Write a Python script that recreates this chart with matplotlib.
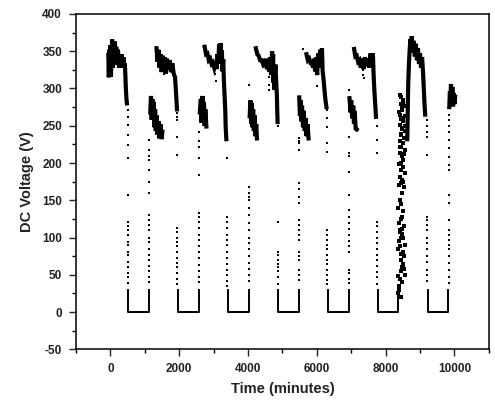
import matplotlib
matplotlib.use("Agg")
import matplotlib.pyplot as plt
from matplotlib.ticker import MultipleLocator

plt.rcParams['font.family'] = ['Liberation Sans', 'DejaVu Sans']
plt.rcParams['axes.unicode_minus'] = False

# night periods at 0 V: (start, end) in minutes
flats = [(525, 1125), (1960, 2570), (3410, 4020), (4870, 5480),
         (6330, 6930), (7770, 8360), (9220, 9820)]

# dense daytime traces (time, voltage)
high1_t = [-60, -45, -30, -15, 0, 15, 30, 50, 70, 90, 110, 130, 150, 170, 200, 220, 250, 270, 300, 320, 350, 380, 400, 420, 435, 450, 465, 480]
high1_v = [345, 315, 352, 320, 358, 316, 335, 366, 328, 362, 336, 363, 340, 356, 332, 352, 328, 346, 332, 346, 328, 342, 330, 334, 318, 300, 287, 280]

low1_t = [1160, 1180, 1200, 1220, 1240, 1260, 1280, 1300, 1320, 1340, 1370, 1400, 1430, 1460, 1490, 1510]
low1_v = [268, 290, 258, 286, 262, 282, 248, 272, 243, 264, 238, 256, 233, 252, 232, 242]

high2_t = [1340, 1370, 1400, 1430, 1460, 1490, 1520, 1550, 1580, 1610, 1640, 1680, 1720, 1760, 1800, 1840, 1880, 1900, 1920, 1935]
high2_v = [354, 336, 352, 328, 346, 322, 344, 328, 342, 320, 340, 326, 338, 322, 334, 320, 315, 300, 285, 272]

low2_t = [2600, 2630, 2650, 2680, 2700, 2720, 2740, 2760, 2790]
low2_v = [268, 286, 254, 290, 258, 282, 250, 272, 249]

high3_t = [2740, 2780, 2820, 2860, 2900, 2940, 2980, 3020, 3060, 3090, 3110, 3140, 3160, 3180, 3200, 3220, 3240, 3260, 3280, 3300, 3320, 3340, 3350, 3370]
high3_v = [356, 346, 347, 338, 340, 333, 335, 328, 336, 326, 346, 336, 359, 343, 361, 333, 351, 323, 339, 310, 290, 270, 250, 232]

low3_t = [4050, 4070, 4090, 4110, 4130, 4150, 4170, 4190, 4210, 4240, 4260]
low3_v = [263, 284, 253, 280, 248, 272, 243, 264, 236, 252, 233]

high4_t = [4230, 4270, 4310, 4350, 4400, 4450, 4490, 4520, 4550, 4580, 4610, 4640, 4670, 4700, 4720, 4730, 4740, 4750, 4760, 4780, 4800, 4820, 4840, 4850, 4860]
high4_v = [354, 346, 344, 338, 338, 331, 332, 340, 326, 337, 323, 342, 318, 350, 328, 346, 308, 326, 298, 322, 332, 308, 290, 270, 255]

low4_t = [5490, 5510, 5530, 5550, 5570, 5600, 5620, 5650, 5680, 5700, 5730, 5760]
low4_v = [288, 263, 284, 256, 277, 248, 270, 243, 260, 236, 252, 233]

high5_t = [5700, 5740, 5780, 5820, 5860, 5890, 5920, 5950, 5980, 6010, 6040, 6070, 6100, 6130, 6150, 6170, 6190, 6220, 6250, 6280]
high5_v = [346, 338, 340, 334, 334, 328, 340, 323, 342, 318, 347, 328, 352, 333, 354, 323, 315, 300, 285, 275]

low5_t = [6950, 6980, 7000, 7030, 7060, 7080, 7100, 7130, 7160]
low5_v = [287, 268, 284, 260, 277, 253, 270, 246, 245]

high6_t = [7085, 7120, 7160, 7200, 7240, 7280, 7320, 7360, 7400, 7440, 7480, 7520, 7560, 7600, 7630, 7650, 7670, 7690, 7710, 7720]
high6_v = [353, 343, 344, 336, 338, 328, 340, 326, 342, 330, 340, 328, 347, 333, 347, 320, 300, 285, 270, 262]

high7_t = [8630, 8640, 8650, 8660, 8680, 8700, 8720, 8740, 8760, 8790, 8820, 8850, 8880, 8910, 8940, 8970, 9000, 9030, 9060, 9090, 9110, 9130, 9150]
high7_v = [232, 260, 290, 310, 335, 352, 366, 352, 370, 348, 364, 343, 360, 338, 354, 333, 347, 328, 342, 320, 300, 280, 265]

low7_t = [9850, 9870, 9880, 9900, 9920, 9940, 9960, 9980, 10000, 10020]
low7_v = [275, 296, 278, 306, 283, 302, 276, 294, 279, 289]

# sparse samples during the evening drops and morning rises (time, voltages)
drops = [
    (500, [271, 262, 251, 238, 224, 207, 157, 121, 116, 110, 104, 94, 90, 81, 76, 67, 60, 53, 47, 39]),
    (1940, [267, 262, 258, 235, 211, 113, 108, 100, 94, 88, 80, 72, 66, 60, 52, 45, 38]),
    (3395, [207, 128, 121, 113, 104, 97, 90, 80, 72, 64, 57, 50, 42, 35]),
    (4860, [250, 121, 80, 77, 70, 65, 60, 55, 47, 38]),
    (6310, [271, 260, 248, 227, 215, 110, 104, 97, 90, 84, 77, 70, 64, 57, 50, 43, 37]),
    (7755, [249, 231, 214, 121, 115, 108, 100, 92, 85, 77, 70, 62, 54, 47, 38]),
    (9195, [258, 250, 242, 235, 211, 128, 124, 117, 110, 100, 92, 84, 75, 67, 57, 50, 42]),
]
rises = [
    (1135, [231, 218, 210, 204, 190, 175, 160, 130, 124, 117, 110, 100, 94, 84, 77, 70, 62, 55, 47, 40]),
    (2585, [241, 230, 222, 207, 184, 133, 128, 121, 113, 104, 97, 88, 80, 72, 63, 55, 47, 40]),
    (4035, [305, 168, 160, 154, 150, 140, 130, 120, 110, 100, 92, 84, 75, 66, 58, 50, 42]),
    (5490, [234, 230, 227, 218, 173, 165, 154, 147, 124, 117, 110, 104, 97, 80, 75, 70, 57, 50, 43]),
    (6940, [298, 235, 214, 209, 188, 157, 137, 128, 120, 112, 104, 95, 88, 80, 57, 52, 44, 39]),
    (9835, [264, 258, 250, 241, 231, 220, 208, 198, 190, 157, 147, 124, 110, 104, 97, 90, 84, 75, 66, 57, 47, 39]),
]

# noisy morning after day 6 (time, voltage)
cloud_t = [8420, 8460, 8500, 8440, 8530, 8480, 8400, 8550, 8450, 8510, 8420, 8490, 8570, 8440, 8530,
           8410, 8500, 8460, 8560, 8430, 8480, 8520, 8400, 8510, 8450, 8550, 8420, 8490, 8440, 8530,
           8430, 8470, 8520, 8410, 8560, 8460, 8500, 8440, 8540, 8480,
           8360, 8390, 8420, 8450, 8480, 8510, 8540, 8370, 8400, 8440, 8470, 8500, 8530, 8560,
           8380, 8410, 8460, 8490, 8520, 8550, 8360, 8430, 8480, 8520, 8400, 8460, 8500, 8440,
           8420, 8480, 8390, 8450, 8510, 8430, 8370, 8490, 8450, 8540]
cloud_v = [291, 288, 284, 279, 276, 271, 268, 263, 259, 256, 251, 247, 243, 239, 234,
           230, 227, 221, 217, 213, 209, 204, 199, 195, 190, 186, 181, 177, 173, 168,
           265, 245, 282, 222, 250, 200, 260, 237, 212, 274,
           25, 35, 45, 55, 40, 62, 75, 85, 95, 70, 105, 80, 115, 90,
           120, 110, 100, 128, 65, 50, 140, 150, 160, 135, 170, 145, 175, 125,
           88, 60, 30, 20, 100, 108, 48, 112, 78, 58]

# a few stray samples near the daytime clusters
stray_t = [1545, 3040, 3060, 4600, 4610, 4620, 5597, 6005, 7346, 7352, 7358]
stray_v = [320, 320, 310, 315, 305, 298, 353, 304, 325, 318, 314]

fig = plt.figure(figsize=(4.95, 4.05), dpi=100)
ax = fig.add_axes([0.1535, 0.1375, 0.834, 0.828])

for t0, t1 in flats:
    ax.plot([t0, t0, t1, t1], [30, 0, 0, 30], color='black', lw=1.4)

traces = [(high1_t, high1_v), (low1_t, low1_v), (high2_t, high2_v), (low2_t, low2_v),
          (high3_t, high3_v), (low3_t, low3_v), (high4_t, high4_v), (low4_t, low4_v),
          (high5_t, high5_v), (low5_t, low5_v), (high6_t, high6_v),
          (high7_t, high7_v), (low7_t, low7_v)]
for tt, vv in traces:
    ax.plot(tt, vv, color='black', lw=3.0, solid_joinstyle='miter')

for t, vals in drops + rises:
    ax.plot([t] * len(vals), vals, 's', color='black', ms=2.1, mew=0)

ax.plot(cloud_t, cloud_v, 's', color='black', ms=2.4, mew=0)
ax.plot(stray_t, stray_v, 's', color='black', ms=2.1, mew=0)

ax.set_xlim(-1000, 11000)
ax.set_ylim(-50, 400)
ax.xaxis.set_major_locator(MultipleLocator(2000))
ax.xaxis.set_minor_locator(MultipleLocator(1000))
ax.yaxis.set_major_locator(MultipleLocator(50))
ax.yaxis.set_minor_locator(MultipleLocator(25))
ax.tick_params(which='major', direction='out', length=5, width=1, labelsize=8.5, colors='#222222', pad=5)
ax.tick_params(which='minor', direction='out', length=3, width=1)
ax.tick_params(top=False, right=False)
for lab in ax.get_xticklabels() + ax.get_yticklabels():
    lab.set_fontweight('bold')
for s in ax.spines.values():
    s.set_linewidth(1.1)

ax.set_xlabel("Time (minutes)", fontsize=10.5, fontweight='bold', color='#222222', labelpad=5)
ax.set_ylabel("DC Voltage (V)", fontsize=10.5, fontweight='bold', color='#222222', labelpad=6)

fig.savefig("out.png", dpi=100)
